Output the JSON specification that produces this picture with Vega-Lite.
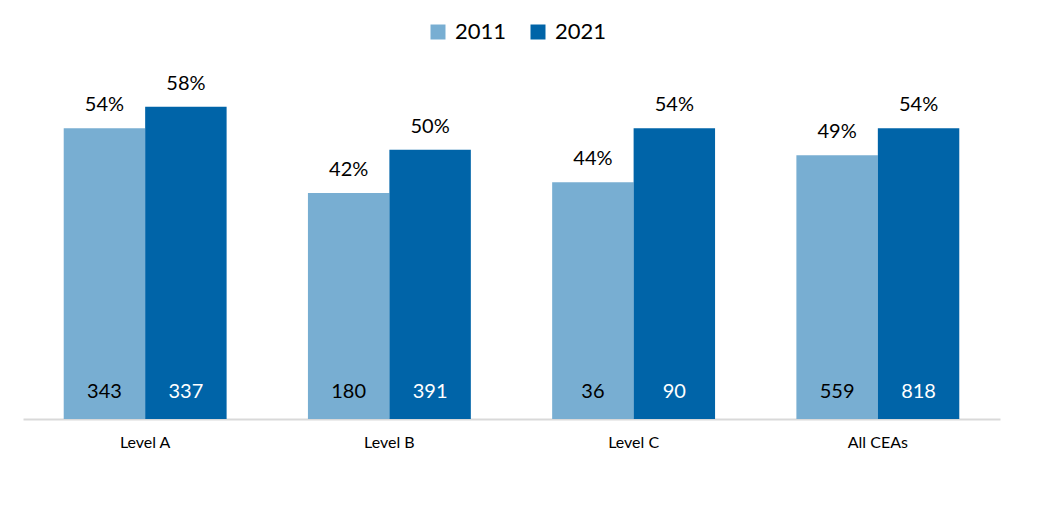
{
  "$schema": "https://vega.github.io/schema/vega-lite/v6.json",
  "width": 977,
  "height": 323,
  "autosize": {"type": "none"},
  "padding": {"left": 23, "top": 96, "right": 41, "bottom": 87},
  "background": "white",
  "config": {"view": {"stroke": null}, "font": "Lato"},
  "data": {
    "values": [
      {"category": "Level A", "year": "2011", "pct": 0.54, "n": 343},
      {"category": "Level A", "year": "2021", "pct": 0.58, "n": 337},
      {"category": "Level B", "year": "2011", "pct": 0.42, "n": 180},
      {"category": "Level B", "year": "2021", "pct": 0.50, "n": 391},
      {"category": "Level C", "year": "2011", "pct": 0.44, "n": 36},
      {"category": "Level C", "year": "2021", "pct": 0.54, "n": 90},
      {"category": "All CEAs", "year": "2011", "pct": 0.49, "n": 559},
      {"category": "All CEAs", "year": "2021", "pct": 0.54, "n": 818}
    ]
  },
  "encoding": {
    "x": {
      "field": "category", "type": "nominal", "sort": null,
      "scale": {"paddingInner": 0.333, "paddingOuter": 0.1667},
      "axis": {"title": null, "labelAngle": 0, "ticks": false, "domainColor": "#d9d9d9", "domainWidth": 2, "labelFontSize": 16, "labelColor": "#000000", "labelPadding": 15, "labelFont": "Lato"}
    },
    "xOffset": {"field": "year", "type": "nominal", "scale": {"paddingInner": 0, "paddingOuter": 0}}
  },
  "layer": [
    {
      "mark": {"type": "bar"},
      "encoding": {
        "y": {"field": "pct", "type": "quantitative", "scale": {"domain": [0, 0.6]}, "axis": null},
        "color": {
          "field": "year", "type": "nominal",
          "scale": {"domain": ["2011", "2021"], "range": ["#78aed2", "#0064a8"]},
          "legend": {"title": null, "orient": "none", "legendX": 404, "legendY": -75, "direction": "horizontal", "symbolType": "square", "symbolSize": 225, "symbolStrokeWidth": 0, "labelFontSize": 22, "labelColor": "#000000", "labelOffset": 6, "columnPadding": 20, "labelFont": "Lato"}
        }
      }
    },
    {
      "mark": {"type": "text", "baseline": "alphabetic", "dy": -17, "fontSize": 20, "color": "#000000"},
      "encoding": {
        "y": {"field": "pct", "type": "quantitative"},
        "text": {"field": "pct", "type": "quantitative", "format": ".0%"}
      }
    },
    {
      "mark": {"type": "text", "baseline": "alphabetic", "fontSize": 20, "dy": -21},
      "encoding": {
        "y": {"datum": 0, "type": "quantitative"},
        "text": {"field": "n", "type": "quantitative"},
        "color": {"condition": {"test": "datum.year === '2021'", "value": "#ffffff"}, "value": "#000000"}
      }
    }
  ]
}
